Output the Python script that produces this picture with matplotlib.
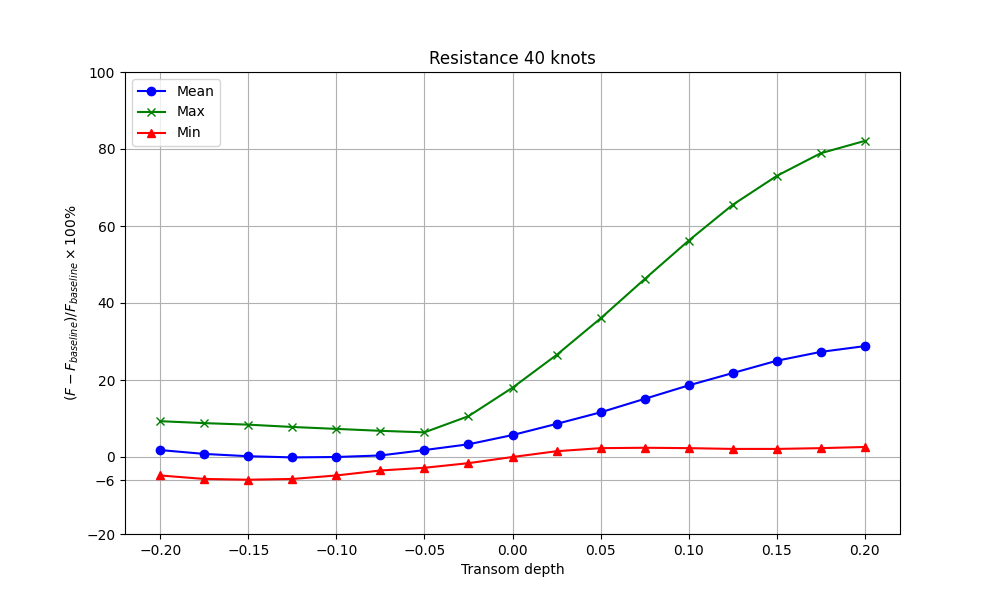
import numpy as np
import matplotlib
matplotlib.use("Agg")
import matplotlib.pyplot as plt

# ── Data ─────────────────────────────────────────────────────────────────────
transom_depth = [-0.200, -0.175, -0.150, -0.125, -0.100, -0.075, -0.050, -0.025,
                 0.000, 0.025, 0.050, 0.075, 0.100, 0.125, 0.150, 0.175, 0.200]
mean_vals = [1.8, 0.8, 0.2, -0.1, 0.0, 0.4, 1.8, 3.3,
             5.7, 8.6, 11.6, 15.1, 18.6, 21.8, 25.0, 27.3, 28.8]
max_vals = [9.3, 8.8, 8.4, 7.8, 7.3, 6.8, 6.4, 10.6,
            18.0, 26.5, 36.0, 46.2, 56.2, 65.5, 73.0, 78.9, 82.1]
min_vals = [-4.8, -5.7, -5.9, -5.7, -4.8, -3.5, -2.8, -1.6,
            0.0, 1.5, 2.3, 2.4, 2.3, 2.1, 2.1, 2.3, 2.6]
y_ticks = [-20, -6, 0, 20, 40, 60, 80, 100]

# ── Plot ─────────────────────────────────────────────────────────────────────
fig, ax = plt.subplots(figsize=(10, 6), dpi=100)
ax.plot(transom_depth, mean_vals, "b-o", label="Mean")
ax.plot(transom_depth, max_vals, "g-x", label="Max")
ax.plot(transom_depth, min_vals, "r-^", label="Min")

ax.set_ylim(-20, 100)
ax.set_yticks(y_ticks)
ax.set_xlabel("Transom depth")
ax.set_ylabel(r"$(F - F_{baseline})/F_{baseline} \times 100\%$")
ax.set_title("Resistance 40 knots")
ax.legend(loc="upper left")
ax.grid(True)

plt.savefig("out.png", dpi=100)
